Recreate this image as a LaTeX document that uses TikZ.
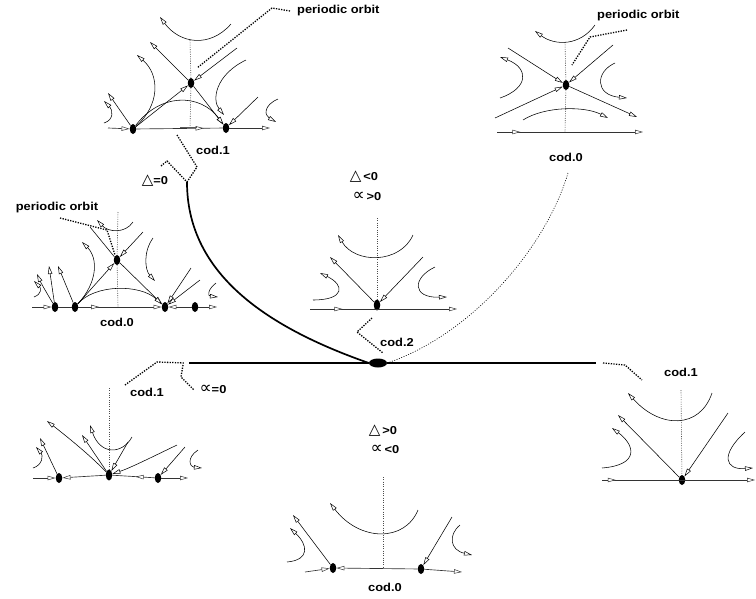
\documentclass[tikz,border=0pt]{standalone}
\usepackage{fontspec}
\setmainfont{Liberation Sans}[FakeStretch=1.12]
\newfontfamily\symf{DejaVu Sans}
\newcommand\tri{{\symf\mdseries\fontsize{15}{15}\selectfont △}}
\newcommand\prp{{\symf\mdseries\fontsize{17}{15}\selectfont ∝}}
\usetikzlibrary{arrows.meta,shapes.geometric,decorations.markings}
\begin{document}
\begin{tikzpicture}[x=1pt,y=-1pt,
 >={Triangle[length=8pt,width=4.4pt,fill=white,line width=0.5pt]},
 fl/.style={line width=0.55pt,->},
 ln/.style={line width=0.55pt},
 ax/.style={line width=0.65pt, black!80},
 vd/.style={line width=0.6pt, black!70, dash pattern=on 1pt off 1.3pt},
 ptr/.style={line width=1.3pt, dash pattern=on 1.3pt off 1.3pt},
 dotn/.style={ellipse, fill=black, inner sep=0pt, minimum width=6.5pt, minimum height=10pt},
 lab/.style={font=\bfseries\fontsize{11.5}{13}\selectfont, inner sep=0pt},
 marr/.style={postaction={decorate}, decoration={markings, mark=at position #1 with {\arrow{>}}}},
]
\useasboundingbox (0,0) rectangle (756,598);

% ================= main bifurcation set =================
\node[ellipse, fill=black, inner sep=0pt, minimum width=18pt, minimum height=9pt] (mainE) at (378,363) {};
\coordinate (mL) at (189,363);
\coordinate (mR) at (596,363);
\coordinate (cTop) at (187,182);
\coordinate (dTop) at (568,173);
\draw[line width=2.4pt] (mL) -- (mainE) -- (mR);
\draw[line width=1.7pt] (cTop) .. controls (187,270) and (260,325) .. (mainE.west);
\draw[line width=0.6pt, dash pattern=on 1pt off 1.5pt] (mainE.east) .. controls (470,335) and (545,250) .. (dTop);

% ================= top-left (cod.1) =================
\node[dotn] (tlA) at (133,129) {};
\node[dotn] (tlB) at (226,128) {};
\node[dotn] (tlS) at (191,83) {};
\draw[vd] (190,40) -- (tlS) -- (190,128);
\draw[ax,->] (108,128) -- (tlA);
\draw[ax,marr=0.78] (tlA) -- (tlB);
\draw[line width=1.4pt, black!65] (180,127.6) -- (197,127.6);
\draw[ax,->] (tlB) -- (270,128);
\draw[fl] (231,24) .. controls (210,48) and (180,44) .. (160,17);
\draw[fl] (tlS) -- (150,42);
\draw[fl] (237,48) -- (tlS);
\draw[fl] (tlS) -- (tlB);
\draw[fl] (tlA) -- (tlS);
\draw[fl] (tlA) -- (108,93);
\draw[fl] (tlA) .. controls (160,105) and (160,75) .. (137,55);
\draw[fl] (tlA) .. controls (160,93) and (200,93) .. (tlB);
\draw[fl] (246,60) .. controls (215,75) and (212,100) .. (224,115);
\draw[fl] (258,97) -- (tlB);
\draw[fl] (104,123) .. controls (114,120) and (113,110) .. (104,101);
\draw[fl] (278,99) .. controls (264,105) and (264,115) .. (276,122);
\node[lab,anchor=west] (tlpo) at (297,11) {periodic orbit};
\draw[ptr] (290,11) -- (272,8) -- (197,68);
\node[lab] (tlcod) at (213,150) {cod.1};
\draw[ptr] (177,135) -- (197,167) -- (cTop);
\node[lab] (tldel) at (155,181) {\tri=0};
\draw[ptr] (161,166) -- (167,161) -- (cTop);

% ================= top-right (cod.0) =================
\node[dotn] (trS) at (566,85) {};
\draw[vd] (565,42) -- (trS) -- (565,132);
\draw[ax,marr=0.16,->] (497,132) -- (643,132);
\draw[fl] (595,25) .. controls (580,46) and (555,46) .. (535,31);
\draw[fl] (508,48) -- (trS);
\draw[fl] (613,45) -- (trS);
\draw[fl] (495,118) -- (trS);
\draw[fl] (trS) -- (637,117);
\draw[fl] (500,98) .. controls (529,88) and (529,68) .. (500,57);
\draw[fl] (615,63) .. controls (595,72) and (595,95) .. (627,98);
\draw[fl] (523,120) .. controls (545,106) and (585,106) .. (608,118);
\node[lab,anchor=west] (trpo) at (597,16) {periodic orbit};
\draw[ptr] (627,30) -- (590,37) -- (572,65);
\node[lab] (trcod) at (566,157) {cod.0};

% ================= middle-left (cod.0) =================
\node[dotn] (mlA) at (55,307) {};
\node[dotn] (mlB) at (75,307) {};
\node[dotn] (mlC) at (165,307) {};
\node[dotn] (mlD) at (195,307) {};
\node[dotn] (mlS) at (117,260) {};
\draw[vd] (118,212) -- (mlS) -- (118,307);
\draw[ax,->] (32,307) -- (mlA);
\draw[ax] (mlA) -- (mlB);
\draw[ax,marr=0.25,->] (mlB) -- (mlC);
\draw[ax,->] (mlD) -- (mlC);
\draw[ax,->] (mlD) -- (217,307);
\draw[fl] (133,222) .. controls (125,234) and (108,232) .. (97,220);
\draw[ln] (90,227) -- (mlS);
\draw[fl] (mlS) -- (mlC);
\draw[fl] (143,232) -- (mlS);
\draw[fl] (mlB) -- (mlS);
\draw[fl] (mlB) .. controls (95,284) and (140,284) .. (mlC);
\draw[fl] (mlB) .. controls (98,282) and (98,258) .. (82,242);
\draw[fl] (153,238) .. controls (143,252) and (145,270) .. (155,281);
\draw[fl] (mlA) -- (49,266);
\draw[fl] (mlB) -- (58,266);
\draw[fl] (mlA) .. controls (48,295) and (42,285) .. (37,274);
\draw[fl] (34,297) .. controls (42,294) and (41,288) .. (34,281);
\draw[fl] (191,268) -- (mlC);
\draw[fl] (200,280) -- (mlC);
\draw[fl] (216,283) .. controls (207,290) and (208,296) .. (218,297);
\node[lab] (mlpo) at (57,208) {periodic orbit};
\draw[ptr] (60,218) -- (107,230) -- (115,255);
\node[lab] (mlcod) at (117,322) {cod.0};

% ================= middle (cod.2) =================
\node[dotn, minimum height=11pt] (mS) at (377,305) {};
\draw[vd] (377,218) -- (mS);
\draw[ax,marr=0.22,->] (310,309) -- (457,309);
\draw[fl] (413,235) .. controls (400,264) and (355,264) .. (338,235);
\draw[fl] (mS) -- (330,257);
\draw[fl] (423,257) -- (mS);
\draw[fl] (313,300) .. controls (345,300) and (345,285) .. (320,273);
\draw[fl] (435,267) .. controls (412,278) and (412,298) .. (447,297);
\node[lab] (mdel) at (364,177) {\tri\,<0};
\node[lab] (malp) at (367,196) {\prp\,>0};
\node[lab] (mcod) at (397,342) {cod.2};
\draw[ptr] (372,318) -- (357,332) -- (383,353);

% ================= right (cod.1) =================
\node[dotn, minimum height=10pt] (rD) at (682,480) {};
\draw[vd] (681,390) -- (rD);
\draw[ax,marr=0.09,->] (602,480) -- (755,480);
\draw[fl] (712,393) .. controls (700,429) and (660,429) .. (628,393);
\draw[fl] (rD) -- (618,415);
\draw[fl] (728,413) -- (rD);
\draw[fl] (602,468) .. controls (640,465) and (635,445) .. (612,428);
\draw[fl] (745,432) .. controls (720,455) and (725,470) .. (753,468);
\node[lab] (rcod) at (681,372) {cod.1};
\draw[ptr] (603,363) -- (625,365) -- (642,380);

% ================= bottom-left (cod.1) =================
\node[dotn] (blA) at (59,478) {};
\node[dotn, minimum height=11pt] (blB) at (109,475) {};
\node[dotn] (blC) at (158,478) {};
\draw[vd] (109,388) -- (blB);
\draw[ax,->] (33,478) -- (blA);
\draw[ax,->] (blB) -- (blA);
\draw[ax,marr=0.45] (blC) -- (blB);
\draw[ax,->] (blC) -- (188,478);
\draw[fl] (132,437) .. controls (122,455) and (100,455) .. (90,425);
\draw[fl] (blB) -- (82,435);
\draw[fl] (blB) .. controls (90,455) and (65,435) .. (47,421);
\draw[fl] (blA) -- (40,438);
\draw[fl] (33,468) .. controls (43,465) and (43,455) .. (36,447);
\draw[fl] (128,442) -- (blB);
\draw[fl] (177,445) .. controls (150,458) and (130,468) .. (blB);
\draw[fl] (185,447) -- (blC);
\draw[fl] (198,450) .. controls (186,458) and (190,467) .. (202,468);
\node[lab] (blcod) at (147,392) {cod.1};
\draw[ptr] (125,385) -- (157,362) -- (185,363);
\node[lab] (blalp) at (213,389) {\prp=0};
\draw[ptr] (183,365) -- (181,377) -- (194,390);

% ================= bottom-centre (cod.0) =================
\node[dotn] (bcA) at (333,568) {};
\node[dotn] (bcB) at (421,569) {};
\draw[vd] (383,477) -- (383,567);
\draw[ax,->] (305,572) -- (bcA);
\draw[ax,->] (bcB) -- (bcA);
\draw[ax,->] (bcB) -- (462,572);
\draw[fl] (418,510) .. controls (405,542) and (360,542) .. (330,503);
\draw[fl] (bcA) -- (293,515);
\draw[fl] (452,517) -- (bcB);
\draw[fl] (287,562) .. controls (310,560) and (308,545) .. (290,528);
\draw[fl] (460,525) .. controls (448,535) and (450,550) .. (472,555);
\node[lab] (bcdel) at (383,431) {\tri\,>0};
\node[lab] (bcalp) at (385,449) {\prp\,<0};
\node[lab] (bccod) at (385,587) {cod.0};
\end{tikzpicture}
\end{document}
